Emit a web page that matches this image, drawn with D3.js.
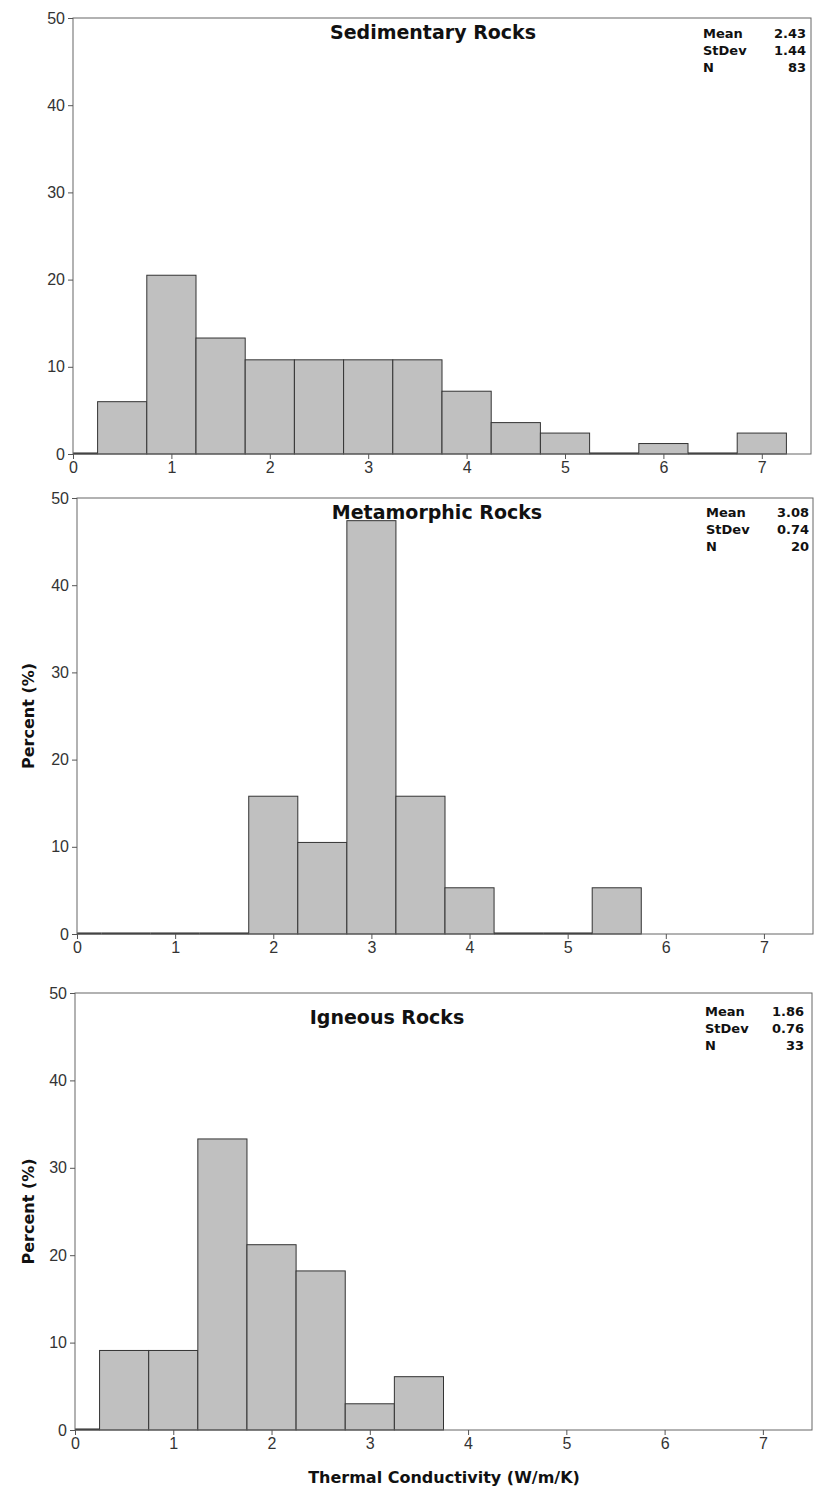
<!DOCTYPE html>
<html>
<head>
<meta charset="utf-8">
<script src="https://cdn.jsdelivr.net/npm/d3@7"></script>
<style>
  body { margin: 0; background: #fff; }
  svg { display: block; font-family: "DejaVu Sans", Verdana, sans-serif; }
  .tick text { fill: #333; font-size: 16px; }
  .tick line { stroke: #555; }
  .domain { display: none; }
</style>
</head>
<body>
<svg id="chart" width="815" height="1488"></svg>
<script>
// bin centres (bin width 0.5), percent per bin
var binCenters = [0, 0.5, 1, 1.5, 2, 2.5, 3, 3.5, 4, 4.5, 5, 5.5, 6, 6.5, 7];
var sedimentaryPct = [0, 6.0, 20.5, 13.3, 10.8, 10.8, 10.8, 10.8, 7.2, 3.6, 2.4, 0, 1.2, 0, 2.4];
var metamorphicPct = [0, 0, 0, 0, 15.8, 10.5, 47.4, 15.8, 5.3, 0, 0, 5.3];
var igneousPct = [0, 9.1, 9.1, 33.3, 21.2, 18.2, 3.0, 6.1];

var titles = ["Sedimentary Rocks", "Metamorphic Rocks", "Igneous Rocks"];
var statLabels = ["Mean", "StDev", "N"];
var sedimentaryStats = ["2.43", "1.44", "83"];
var metamorphicStats = ["3.08", "0.74", "20"];
var igneousStats = ["1.86", "0.76", "33"];

var xTicks = [0, 1, 2, 3, 4, 5, 6, 7];
var yTicks = [0, 10, 20, 30, 40, 50];

var svg = d3.select("#chart");

var panels = [
    {values: sedimentaryPct, stats: sedimentaryStats, title: titles[0],
     left: 73, right: 811, top: 18, bottom: 454, titleX: 433, titleY: 32,
     statX: 703, statR: 806, statY: 33, ylabel: false},
    {values: metamorphicPct, stats: metamorphicStats, title: titles[1],
     left: 77, right: 813, top: 498, bottom: 934, titleX: 437, titleY: 512,
     statX: 706, statR: 809, statY: 512, ylabel: true},
    {values: igneousPct, stats: igneousStats, title: titles[2],
     left: 75, right: 812, top: 993, bottom: 1430, titleX: 387, titleY: 1017,
     statX: 705, statR: 804, statY: 1011, ylabel: true}
];

panels.forEach(function(p) {
    var x = d3.scaleLinear().domain([0, 7.5]).range([p.left, p.right]);
    var y = d3.scaleLinear().domain([0, 50]).range([p.bottom, p.top]);
    var g = svg.append("g");

    var bins = p.values.map(function(v, i) {
        return {x0: Math.max(0, binCenters[i] - 0.25), x1: binCenters[i] + 0.25, v: v};
    });

    g.selectAll("rect.bar")
        .data(bins.filter(function(d) { return d.v > 0; }))
        .enter().append("rect")
        .attr("class", "bar")
        .attr("x", function(d) { return x(d.x0); })
        .attr("width", function(d) { return x(d.x1) - x(d.x0); })
        .attr("y", function(d) { return y(d.v); })
        .attr("height", function(d) { return y(0) - y(d.v); })
        .attr("fill", "#c0c0c0")
        .attr("stroke", "#333")
        .attr("stroke-width", 1);

    // empty bins are drawn as a line on the baseline
    g.selectAll("line.zero")
        .data(bins.filter(function(d) { return d.v === 0; }))
        .enter().append("line")
        .attr("class", "zero")
        .attr("x1", function(d) { return x(d.x0); })
        .attr("x2", function(d) { return x(d.x1); })
        .attr("y1", y(0) - 0.5)
        .attr("y2", y(0) - 0.5)
        .attr("stroke", "#222")
        .attr("stroke-width", 2);

    // frame
    g.append("rect")
        .attr("x", p.left).attr("y", p.top)
        .attr("width", p.right - p.left).attr("height", p.bottom - p.top)
        .attr("fill", "none").attr("stroke", "#666").attr("stroke-width", 1);

    g.append("g")
        .attr("transform", "translate(0," + p.bottom + ")")
        .call(d3.axisBottom(x).tickValues(xTicks).tickSize(5).tickPadding(3));

    g.append("g")
        .attr("transform", "translate(" + p.left + ",0)")
        .call(d3.axisLeft(y).tickValues(yTicks).tickSize(5).tickPadding(3));

    g.append("text")
        .attr("x", p.titleX).attr("y", p.titleY)
        .attr("text-anchor", "middle").attr("dominant-baseline", "central")
        .attr("font-size", 19).attr("font-weight", "bold").attr("fill", "#111")
        .text(p.title);

    statLabels.forEach(function(s, i) {
        g.append("text")
            .attr("x", p.statX).attr("y", p.statY + i * 17)
            .attr("dominant-baseline", "central")
            .attr("font-size", 13).attr("font-weight", "bold").attr("fill", "#111")
            .text(s);
        g.append("text")
            .attr("x", p.statR).attr("y", p.statY + i * 17)
            .attr("text-anchor", "end").attr("dominant-baseline", "central")
            .attr("font-size", 13).attr("font-weight", "bold").attr("fill", "#111")
            .text(p.stats[i]);
    });

    if (p.ylabel) {
        g.append("text")
            .attr("transform", "translate(28," + (p.top + p.bottom) / 2 + ") rotate(-90)")
            .attr("text-anchor", "middle").attr("dominant-baseline", "central")
            .attr("font-size", 16).attr("font-weight", "bold").attr("fill", "#111")
            .text("Percent (%)");
    }
});

svg.append("text")
    .attr("x", 444).attr("y", 1477)
    .attr("text-anchor", "middle").attr("dominant-baseline", "central")
    .attr("font-size", 16).attr("font-weight", "bold").attr("fill", "#111")
    .text("Thermal Conductivity (W/m/K)");
</script>
</body>
</html>
